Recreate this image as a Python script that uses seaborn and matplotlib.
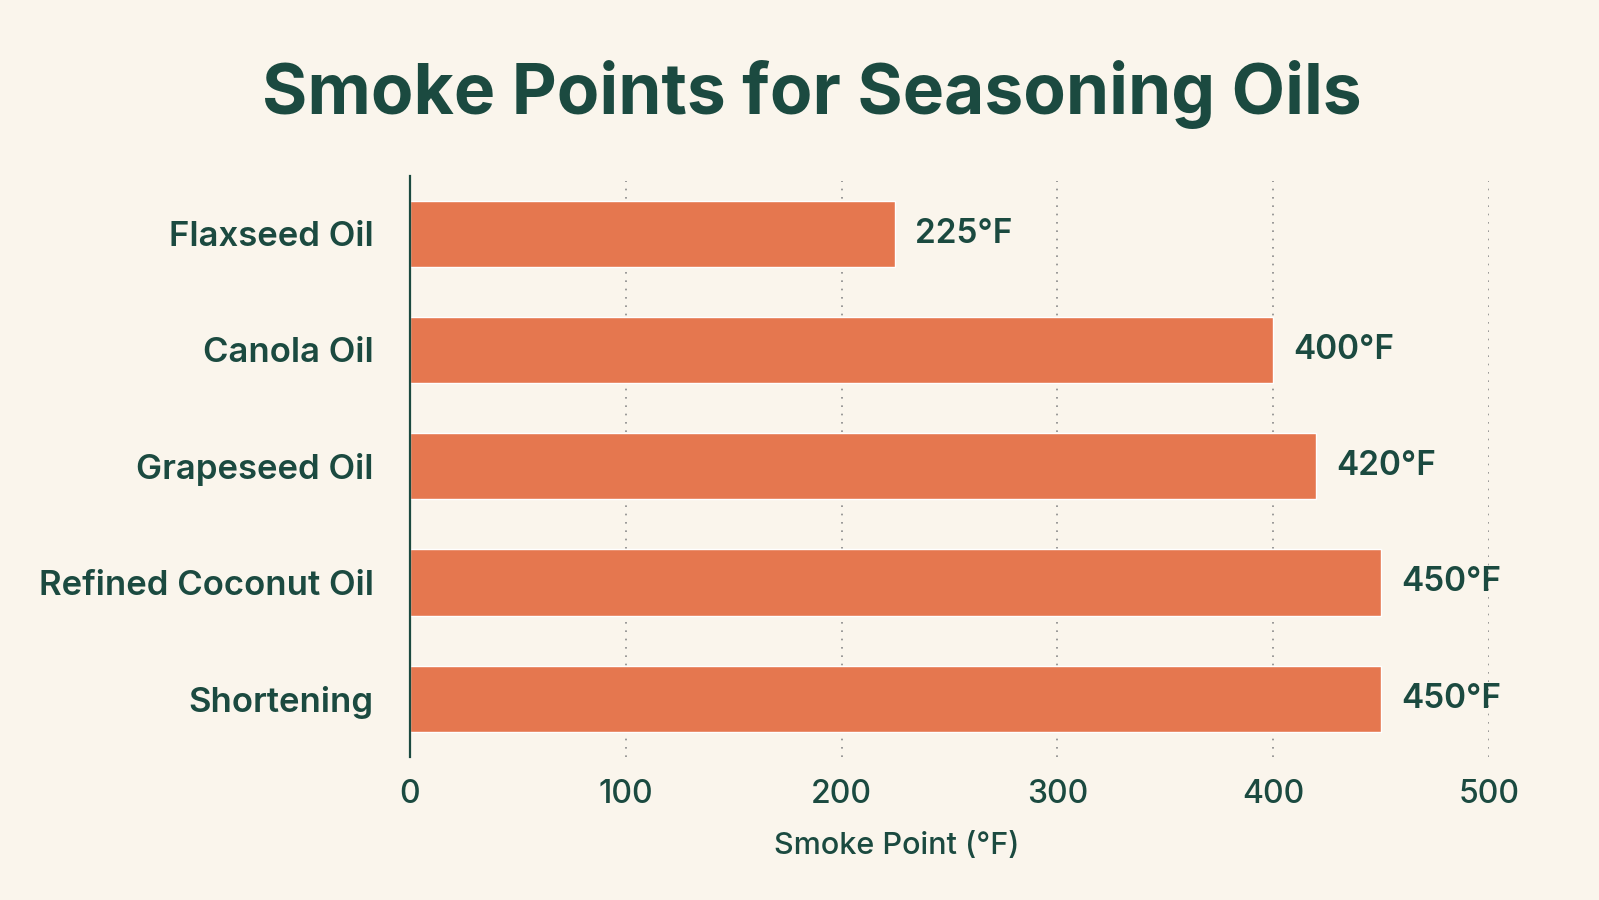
import matplotlib
matplotlib.use("Agg")
import matplotlib.pyplot as plt
import seaborn as sns
import pandas as pd

oils = ["Flaxseed Oil", "Canola Oil", "Grapeseed Oil", "Refined Coconut Oil", "Shortening"]
smoke_points = [225, 400, 420, 450, 450]
x_ticks = [0, 100, 200, 300, 400, 500]

BG = "#FAF5EC"
BAR = "#E5774F"
TXT = "#1B4A40"

sns.set_theme(style="white")
plt.rcParams["font.family"] = ["Inter", "DejaVu Sans"]

df = pd.DataFrame({"oil": oils, "smoke": smoke_points})

fig = plt.figure(figsize=(15.99, 9), dpi=100, facecolor=BG)
ax = fig.add_axes([0.2564, 0.159, 0.9311 - 0.2564, 0.805 - 0.159])
ax.set_facecolor(BG)

sns.barplot(data=df, x="smoke", y="oil", orient="h", color=BAR, width=0.57,
            saturation=1, ax=ax, zorder=3)

ax.set_xlim(0, 500)
ax.set_ylim(4.5, -0.5)
ax.set_xticks(x_ticks)
ax.set_xticklabels([str(t) for t in x_ticks])
for t in x_ticks[1:]:
    ax.axvline(t, ymin=0, ymax=0.99, color="#8a8a8a", linestyle=(0, (1, 4)), linewidth=1.2, zorder=1)

for s in ["top", "right", "bottom"]:
    ax.spines[s].set_visible(False)
ax.spines["left"].set_color(TXT)
ax.spines["left"].set_linewidth(1.6)
ax.spines["left"].set_zorder(4)

ax.tick_params(axis="y", length=0, pad=26, labelsize=25, labelcolor=TXT)
ax.tick_params(axis="x", length=0, pad=16, labelsize=23, labelcolor=TXT)
for lab in ax.get_yticklabels():
    lab.set_fontweight("semibold")
for lab in ax.get_xticklabels():
    lab.set_fontweight("medium")

ax.set_ylabel("")
ax.set_xlabel("")
fig.text(0.561, 0.060, "Smoke Point (°F)", ha="center", va="center",
         fontsize=22, color=TXT, fontweight="medium")

for i, v in enumerate(smoke_points):
    ax.annotate(f"{v}°F", xy=(v, i), xytext=(20, 0), textcoords="offset pixels",
                va="center", ha="left", fontsize=24, color=TXT, fontweight="semibold")

fig.text(0.508, 0.8946, "Smoke Points for Seasoning Oils", ha="center", va="center",
         fontsize=50, fontweight="bold", color=TXT)

fig.savefig("out.png", dpi=100, facecolor=BG)
